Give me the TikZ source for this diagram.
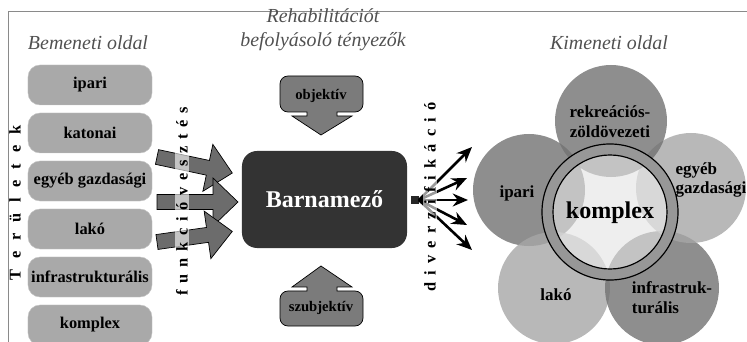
\documentclass[tikz,border=0pt]{standalone}
\usepackage{fontspec}
\setmainfont{Liberation Serif}
\usetikzlibrary{arrows.meta}

\definecolor{boxgray}{HTML}{A9A9A9}
\definecolor{boxline}{HTML}{C4C4C4}
\definecolor{blockgray}{HTML}{6C6C6C}
\definecolor{coregray}{HTML}{333333}
\definecolor{titlegray}{HTML}{505050}
\definecolor{framegray}{HTML}{8A8A8A}
\definecolor{ringgray}{HTML}{979797}
\definecolor{petaldark}{HTML}{727272}
\definecolor{petallight}{HTML}{A6A6A6}
\definecolor{starbase}{HTML}{DDDDDD}

\newcommand{\wide}[1]{\spaceskip=#1\relax}

\tikzset{
  inbox/.style={fill=boxgray,draw=boxline,rounded corners=0.36cm,minimum width=3.72cm,
    minimum height=1.2cm,inner sep=0pt,font=\bfseries\fontsize{14}{16}\selectfont},
  title/.style={font=\itshape\fontsize{17}{20.4}\selectfont,text=titlegray,align=center},
  vtext/.style={rotate=90,fill=white,fill opacity=0.6,text opacity=1,inner sep=1pt,
    font=\bfseries\fontsize{14}{16}\selectfont},
  blockarr/.style={fill=blockgray,draw=black,line width=0.6pt},
  callout/.style={fill=blockgray!90,draw=black,line width=0.6pt},
  smalltxt/.style={font=\bfseries\fontsize{12.5}{14}\selectfont},
  fanarr/.style={line width=2.2pt,-{Stealth[length=13pt,width=11pt]}},
  petal/.style={circle,fill opacity=0.8,inner sep=0pt},
  petaltxt/.style={font=\bfseries\fontsize{14.5}{17}\selectfont,align=left}
}

\begin{document}
\begin{tikzpicture}[x=0.03cm,y=-0.03cm]
\useasboundingbox (0,0) rectangle (747,342);

% frame
\draw[framegray,line width=0.8pt] (8,342) -- (8,11) -- (747,11);

% titles
\node[title] (in-title) at (88,43) {Bemeneti oldal};
\node[title] (mid-title) at (323,30) {Rehabilitációt\\befolyásoló tényezők};
\node[title] (out-title) at (609,43) {Kimeneti oldal};

% input side
\node[inbox] (ipari) at (90,85) {ipari};
\node[inbox] (katonai) at (90,133) {katonai};
\node[inbox] (egyeb) at (90,181) {egyéb gazdasági};
\node[inbox] (lako) at (90,229) {lakó};
\node[inbox] (infra) at (90,277) {infrastrukturális};
\node[inbox] (komplex) at (90,325) {komplex};
\node[rotate=90,font=\bfseries\fontsize{14}{16}\selectfont] (teruletek) at (15,203) {\wide{0.66em}T e r ü l e t e k};

% block arrows into the core
\foreach \ty/\rot/\len in {157/-12/77, 202/0/81, 242/8/76}
  \draw[blockarr,shift={(157,\ty)},rotate=\rot]
    (0,-7.5) -- (\len-25,-7.5) -- (\len-25,-24) -- (\len,0) -- (\len-25,24)
    -- (\len-25,7.5) -- (0,7.5) -- cycle;
\node[vtext] (funkcio) at (182,201) {\wide{0.41em}f u n k c i ó v e s z t é s};

% core
\node[fill=coregray,rounded corners=0.45cm,minimum width=4.95cm,minimum height=2.91cm,
  text=white,font=\bfseries\fontsize{20.5}{24}\selectfont] (barna) at (324.5,199.5) {Barnamező};

% influencing factors
\draw[callout] (321,135) -- (352,116) -- (337,116) -- (337,112)
  [rounded corners=0.24cm] -- (363,112) -- (363,76) -- (280,76) -- (280,112)
  [sharp corners] -- (307,112) -- (307,116) -- (292,116) -- cycle;
\node[smalltxt] (obj) at (321,96) {objektív};
\draw[callout] (321,266) -- (352,287) -- (337,287) -- (337,291)
  [rounded corners=0.24cm] -- (363,291) -- (363,326) -- (280,326) -- (280,291)
  [sharp corners] -- (307,291) -- (307,287) -- (292,287) -- cycle;
\node[smalltxt] (szubj) at (321,308) {szubjektív};

% diversification
\node[fill=black!85,minimum width=0.22cm,minimum height=0.26cm,inner sep=0pt] (fan) at (415,200) {};
\foreach \i/\tx/\ty in {1/472/147, 2/467/178, 3/468/200, 4/467/225, 5/472/250} {
  \coordinate (d\i) at (\tx,\ty);
  \draw[fanarr] (fan.east) -- (d\i);
}
\node[vtext] (diverz) at (430,197) {\wide{0.44em}d i v e r z i f i k á c i ó};

% output side
\coordinate (mid) at (610,212);
\fill[starbase] (mid) circle[radius=1.71cm];
\node[petal,fill=petaldark,minimum size=3.36cm] (p-ipari) at (529,190) {};
\node[petal,fill=petallight,minimum size=3.36cm] (p-lako) at (554,288) {};
\node[petal,fill=petaldark,minimum size=3.42cm] (p-infra) at (662,288) {};
\node[petal,fill=petallight,minimum size=3.3cm] (p-egyeb) at (691,188) {};
\node[petal,fill=petaldark,minimum size=3.36cm] (p-rekr) at (611,121) {};
\fill[ringgray,even odd rule] (mid) circle[radius=2.04cm] circle[radius=1.71cm];
\node[circle,draw=black,line width=1pt,minimum size=4.08cm] (ring) at (mid) {};
\node[circle,draw=black,line width=1pt,fill=white,fill opacity=0.5,minimum size=3.42cm] (core-out) at (mid) {};
\node[font=\bfseries\fontsize{20.5}{24}\selectfont] (t-komplex) at (610,213) {komplex};
\node[petaltxt,align=center] (t-rekr) at (610,122) {rekreációs-\\zöldövezeti};
\node[petaltxt] (t-ipari) at (517,193) {ipari};
\node[petaltxt] (t-egyeb) at (711,180) {egyéb\\gazdasági};
\node[petaltxt] (t-lako) at (556,295) {lakó};
\node[petaltxt] (t-infra) at (672,298) {infrastruk-\\turális};
\end{tikzpicture}
\end{document}
